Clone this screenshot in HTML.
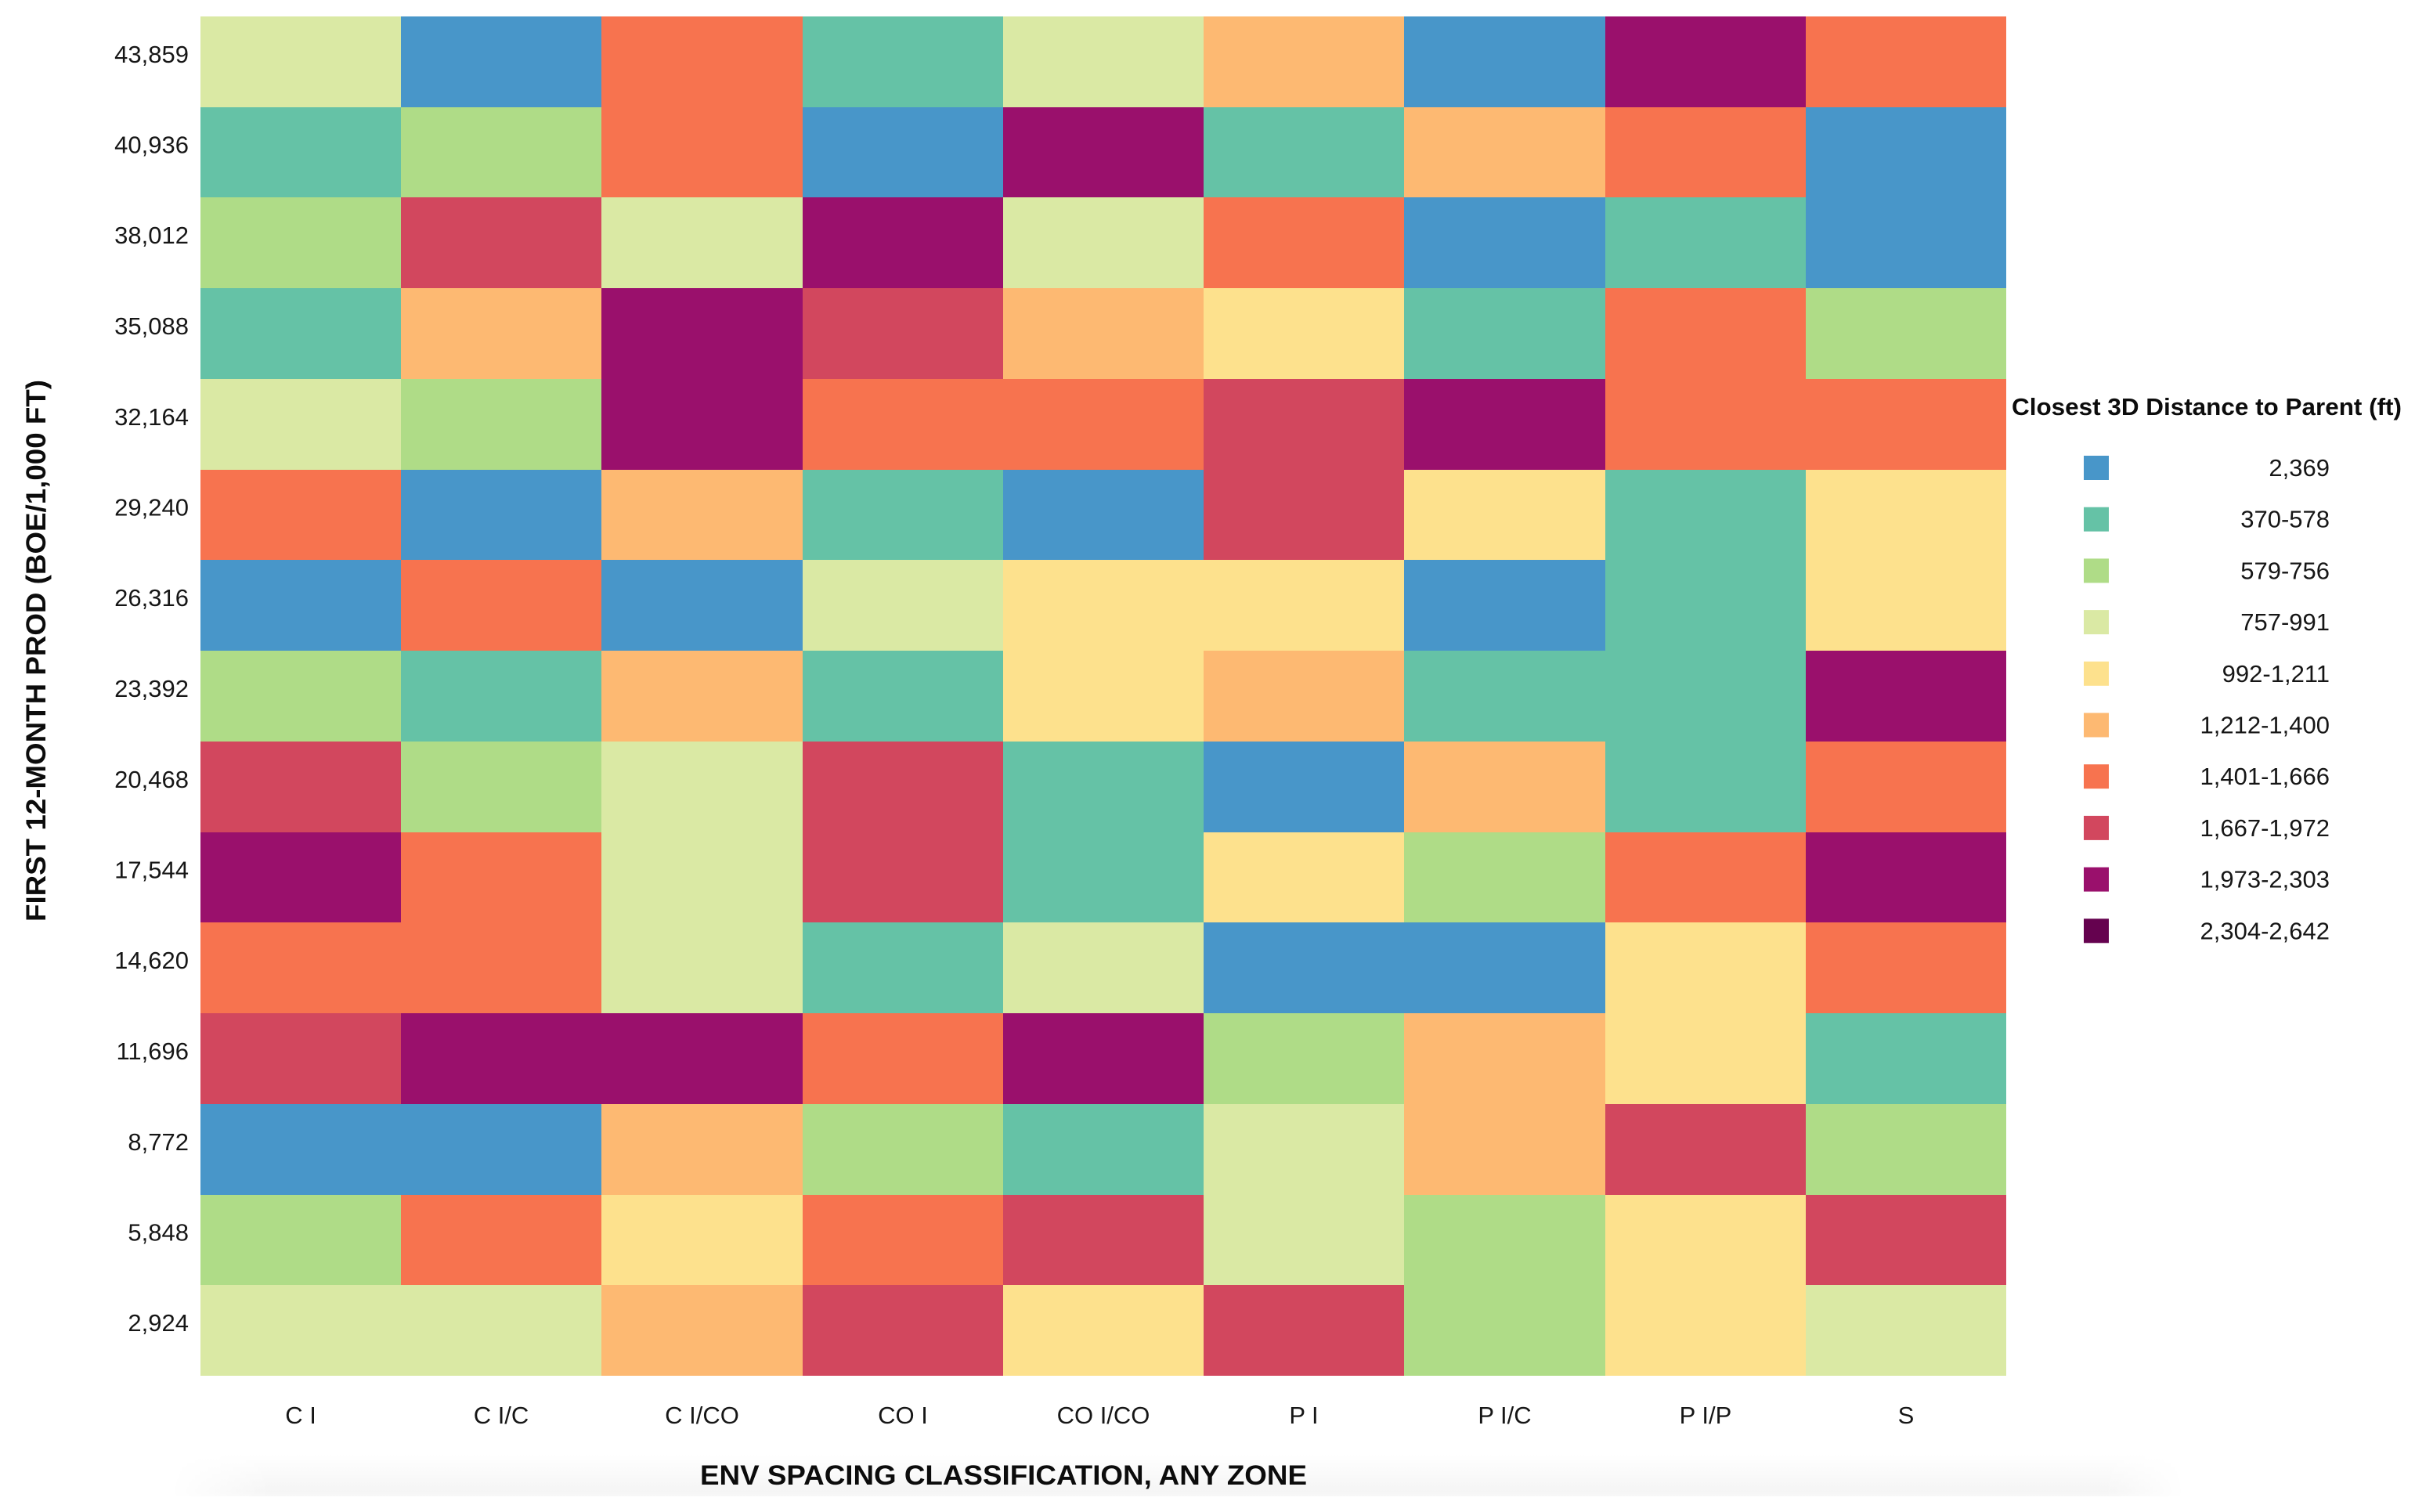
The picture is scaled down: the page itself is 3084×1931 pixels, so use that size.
<!DOCTYPE html>
<html lang="en">
<head>
<meta charset="utf-8">
<title>First 12-Month Production Heatmap</title>
<style>
  html, body { margin: 0; padding: 0; background: #ffffff; }
  svg { display: block; }
  text { font-family: "Liberation Sans", Arial, sans-serif; fill: #161616; }
</style>
</head>
<body>
<svg id="chart" xmlns="http://www.w3.org/2000/svg" width="3084" height="1931" viewBox="0 0 3084 1931">
  <defs>
    <linearGradient id="band-fill" x1="0" y1="0" x2="0" y2="1">
      <stop offset="0" stop-color="#ffffff"/>
      <stop offset="0.9" stop-color="#f5f5f5"/>
      <stop offset="1" stop-color="#f8f8f8"/>
    </linearGradient>
    <linearGradient id="band-fade" x1="0" y1="0" x2="1" y2="0">
      <stop offset="0" stop-color="#000"/>
      <stop offset="0.05" stop-color="#fff"/>
      <stop offset="0.96" stop-color="#fff"/>
      <stop offset="1" stop-color="#000"/>
    </linearGradient>
    <mask id="band-mask" maskUnits="userSpaceOnUse" x="217" y="1857" width="2573" height="54">
      <rect x="217" y="1857" width="2573" height="54" fill="url(#band-fade)"/>
    </mask>
  </defs>
  <rect x="0" y="0" width="3084" height="1931" fill="#ffffff"/>
  <rect x="217" y="1857" width="2573" height="54" fill="url(#band-fill)" mask="url(#band-mask)"/>
  <g id="cells"></g>
  <g id="y-axis"></g>
  <g id="x-axis"></g>
  <g id="legend"></g>
  <text x="894" y="1896" font-size="35" font-weight="700" textLength="775" lengthAdjust="spacingAndGlyphs" style="fill:#0c0c0c">ENV SPACING CLASSIFICATION, ANY ZONE</text>
  <text transform="translate(58 1177) rotate(-90)" x="0" y="0" font-size="35" font-weight="700" textLength="692" lengthAdjust="spacingAndGlyphs" style="fill:#0c0c0c">FIRST 12-MONTH PROD (BOE/1,000 FT)</text>
  <text x="2569" y="530" font-size="31" font-weight="700" textLength="498" lengthAdjust="spacingAndGlyphs" style="fill:#0c0c0c">Closest 3D Distance to Parent (ft)</text>
</svg>
<script>
const categories = ["C I", "C I/C", "C I/CO", "CO I", "CO I/CO", "P I", "P I/C", "P I/P", "S"];
const rowLabels = ["43,859", "40,936", "38,012", "35,088", "32,164", "29,240", "26,316", "23,392", "20,468", "17,544", "14,620", "11,696", "8,772", "5,848", "2,924"];
const binLabels = ["2,369", "370-578", "579-756", "757-991", "992-1,211", "1,212-1,400", "1,401-1,666", "1,667-1,972", "1,973-2,303", "2,304-2,642"];
const binColors = ["#4896c9", "#65c2a6", "#afdc87", "#dae9a4", "#fde18d", "#fdb972", "#f7734f", "#d2475e", "#9a106c", "#65024f"];

/* Each row holds the distance-bin index (into binLabels) per category. */
const row43859 = [3, 0, 6, 1, 3, 5, 0, 8, 6];
const row40936 = [1, 2, 6, 0, 8, 1, 5, 6, 0];
const row38012 = [2, 7, 3, 8, 3, 6, 0, 1, 0];
const row35088 = [1, 5, 8, 7, 5, 4, 1, 6, 2];
const row32164 = [3, 2, 8, 6, 6, 7, 8, 6, 6];
const row29240 = [6, 0, 5, 1, 0, 7, 4, 1, 4];
const row26316 = [0, 6, 0, 3, 4, 4, 0, 1, 4];
const row23392 = [2, 1, 5, 1, 4, 5, 1, 1, 8];
const row20468 = [7, 2, 3, 7, 1, 0, 5, 1, 6];
const row17544 = [8, 6, 3, 7, 1, 4, 2, 6, 8];
const row14620 = [6, 6, 3, 1, 3, 0, 0, 4, 6];
const row11696 = [7, 8, 8, 6, 8, 2, 5, 4, 1];
const row8772 = [0, 0, 5, 2, 1, 3, 5, 7, 2];
const row5848 = [2, 6, 4, 6, 7, 3, 2, 4, 7];
const row2924 = [3, 3, 5, 7, 4, 7, 2, 4, 3];
const gridRows = [row43859, row40936, row38012, row35088, row32164, row29240, row26316, row23392, row20468, row17544, row14620, row11696, row8772, row5848, row2924];

const NS = "http://www.w3.org/2000/svg";
const plotLeft = 256, plotRight = 2562, plotTop = 21, plotBottom = 1757;

function xEdge(i) { return Math.round(plotLeft + i * (plotRight - plotLeft) / categories.length); }
function yEdge(i) { return Math.round(plotTop + i * (plotBottom - plotTop) / rowLabels.length); }
function slug(s) { return s.toLowerCase().replace(/[^a-z0-9]+/g, "-").replace(/^-|-$/g, ""); }

const cellsGroup = document.getElementById("cells");
gridRows.forEach(function (row, r) {
  row.forEach(function (bin, c) {
    const rect = document.createElementNS(NS, "rect");
    rect.setAttribute("x", xEdge(c));
    rect.setAttribute("y", yEdge(r));
    rect.setAttribute("width", xEdge(c + 1) - xEdge(c));
    rect.setAttribute("height", yEdge(r + 1) - yEdge(r));
    rect.setAttribute("fill", binColors[bin]);
    rect.setAttribute("shape-rendering", "crispEdges");
    
    
    cellsGroup.appendChild(rect);
  });
});

const yAxisGroup = document.getElementById("y-axis");
rowLabels.forEach(function (label, r) {
  const t = document.createElementNS(NS, "text");
  t.setAttribute("x", 241);
  t.setAttribute("y", (yEdge(r) + yEdge(r + 1)) / 2 + 1);
  t.setAttribute("text-anchor", "end");
  t.setAttribute("font-size", "31");
  t.textContent = label;
  
  
  yAxisGroup.appendChild(t);
});

const xAxisGroup = document.getElementById("x-axis");
categories.forEach(function (label, c) {
  const t = document.createElementNS(NS, "text");
  t.setAttribute("x", (xEdge(c) + xEdge(c + 1)) / 2);
  t.setAttribute("y", 1818);
  t.setAttribute("text-anchor", "middle");
  t.setAttribute("font-size", "31");
  t.textContent = label;
  
  
  xAxisGroup.appendChild(t);
});

const legendGroup = document.getElementById("legend");
binLabels.forEach(function (label, i) {
  const top = 582 + i * 65.7;
  const swatch = document.createElementNS(NS, "rect");
  swatch.setAttribute("x", 2661);
  swatch.setAttribute("y", top);
  swatch.setAttribute("width", 32);
  swatch.setAttribute("height", 31);
  swatch.setAttribute("fill", binColors[i]);
  
  
  legendGroup.appendChild(swatch);

  const t = document.createElementNS(NS, "text");
  t.setAttribute("x", 2975);
  t.setAttribute("y", top + 26);
  t.setAttribute("text-anchor", "end");
  t.setAttribute("font-size", "31");
  t.textContent = label;
  
  
  legendGroup.appendChild(t);
});
</script>
</body>
</html>
